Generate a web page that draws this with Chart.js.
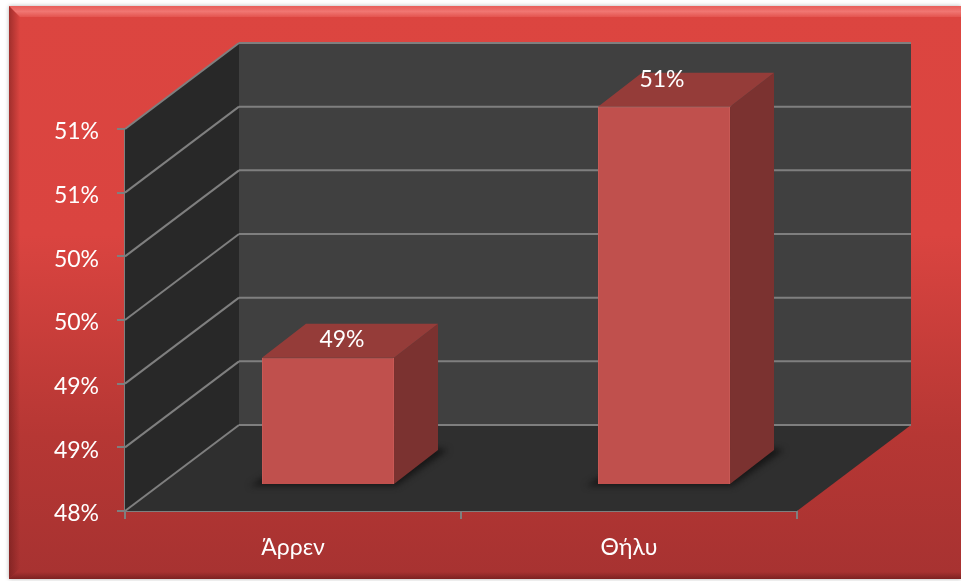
<!DOCTYPE html>
<html>
<head>
<meta charset="utf-8">
<style>
    html, body { margin: 0; padding: 0; background: #fff; }
    canvas { display: block; }
</style>
<script src="https://cdn.jsdelivr.net/npm/chart.js@4"></script>
</head>
<body>
<canvas id="barChart" width="961" height="581"></canvas>
<script>
const categories = ['Άρρεν', 'Θήλυ'];
const percentValues = [49.0, 50.97];
const valueLabels = ['49%', '51%'];
const yTickValues = [48, 48.5, 49, 49.5, 50, 50.5, 51];
const yTickLabels = ['48%', '49%', '49%', '50%', '50%', '51%', '51%'];

const fontName = 'Lato, "Open Sans", sans-serif';
const fontSize = 23;

// how far the walls and the bars are pushed back from the front plane
const wallShift = { x: 114, y: -86 };
const barShift = { x: 35, y: -26 };
const barDepth = { x: 44, y: -34 };
const labelShift = [{ x: 14, y: -18 }, { x: -2, y: -27 }];

function poly(ctx, points, fill) {
    ctx.beginPath();
    points.forEach((p, i) => {
        if (i == 0) ctx.moveTo(p[0], p[1]);
        else ctx.lineTo(p[0], p[1]);
    });
    ctx.closePath();
    ctx.fillStyle = fill;
    ctx.fill();
}

function line(ctx, x1, y1, x2, y2) {
    ctx.beginPath();
    ctx.moveTo(x1, y1);
    ctx.lineTo(x2, y2);
    ctx.stroke();
}

const panelPlugin = {
    id: 'panel',
    beforeDraw(chart) {
        const ctx = chart.ctx;
        const x = 9, y = 6, w = 952, h = 573, bevel = 11;
        ctx.save();
        ctx.shadowColor = 'rgba(0,0,0,0.3)';
        ctx.shadowBlur = 4;
        ctx.fillStyle = '#b03432';
        ctx.fillRect(x, y, w, h);
        ctx.restore();

        const grad = ctx.createLinearGradient(0, y, 0, y + h);
        grad.addColorStop(0, '#dc4540');
        grad.addColorStop(0.4, '#da4440');
        grad.addColorStop(0.75, '#b63734');
        grad.addColorStop(1, '#a73231');
        ctx.fillStyle = grad;
        ctx.fillRect(x, y, w, h);

        // bevel edges
        const topGrad = ctx.createLinearGradient(0, y, 0, y + bevel);
        topGrad.addColorStop(0, '#e85e5a');
        topGrad.addColorStop(0.5, '#f07672');
        topGrad.addColorStop(1, '#e4544f');
        poly(ctx, [[x, y], [x + w, y], [x + w, y + bevel], [x + bevel, y + bevel]], topGrad);
        const leftGrad = ctx.createLinearGradient(x, 0, x + bevel, 0);
        leftGrad.addColorStop(0, 'rgba(90,20,20,0.45)');
        leftGrad.addColorStop(1, 'rgba(90,20,20,0)');
        poly(ctx, [[x, y], [x + bevel, y + bevel], [x + bevel, y + h - bevel], [x, y + h]], leftGrad);
        const botGrad = ctx.createLinearGradient(0, y + h - 7, 0, y + h);
        botGrad.addColorStop(0, 'rgba(90,20,20,0)');
        botGrad.addColorStop(1, 'rgba(90,20,20,0.55)');
        poly(ctx, [[x, y + h], [x + 7, y + h - 7], [x + w, y + h - 7], [x + w, y + h]], botGrad);

        // the tick labels sit a little lower than the ticks
        chart.scales.y.getLabelItems().forEach(item => {
            item.options.translation[1] += 3;
        });
    },
    beforeDatasetsDraw(chart) {
        const ctx = chart.ctx;
        const a = chart.chartArea;
        const sx = wallShift.x, sy = wallShift.y;
        const yScale = chart.scales.y;

        poly(ctx, [[a.left + sx, a.top + sy], [a.right + sx, a.top + sy], [a.right + sx, a.bottom + sy], [a.left + sx, a.bottom + sy]], '#404040');
        poly(ctx, [[a.left, a.top], [a.left + sx, a.top + sy], [a.left + sx, a.bottom + sy], [a.left, a.bottom]], '#282828');
        poly(ctx, [[a.left, a.bottom], [a.left + sx, a.bottom + sy], [a.right + sx, a.bottom + sy], [a.right, a.bottom]], '#2f2f2f');

        ctx.save();
        ctx.strokeStyle = '#7f7f7f';
        ctx.lineWidth = 2;
        yTickValues.forEach(v => {
            const py = yScale.getPixelForValue(v);
            line(ctx, a.left, py, a.left + sx, py + sy);
            line(ctx, a.left + sx, py + sy, a.right + sx, py + sy);
        });
        ctx.restore();
    },
    beforeDatasetDraw(chart) {
        const ctx = chart.ctx;
        const bars = chart.getDatasetMeta(0).data;
        const dx = barDepth.x, dy = barDepth.y;

        ctx.save();
        ctx.translate(barShift.x, barShift.y);
        bars.forEach(bar => {
            const l = bar.x - bar.width / 2;
            const r = bar.x + bar.width / 2;
            const t = bar.y;
            const b = bar.base;

            // soft shadow on the floor, reaches past the base on both sides
            ctx.save();
            ctx.filter = 'blur(3px)';
            poly(ctx, [[l - 12, b + 2], [r + 2, b + 2], [r + dx + 10, b + dy], [r + dx, b + dy - 2], [l + dx, b + dy]], 'rgba(20,20,20,0.9)');
            ctx.restore();

            poly(ctx, [[r, t], [r + dx, t + dy], [r + dx, b + dy], [r, b]], '#7b3230');
            poly(ctx, [[l, t], [l + dx, t + dy], [r + dx, t + dy], [r, t]], '#953c39');
        });
    },
    afterDatasetDraw(chart) {
        const ctx = chart.ctx;
        const bars = chart.getDatasetMeta(0).data;
        ctx.restore();

        ctx.save();
        ctx.fillStyle = '#ffffff';
        ctx.font = fontSize + 'px ' + fontName;
        ctx.textAlign = 'center';
        ctx.textBaseline = 'middle';
        bars.forEach((bar, i) => {
            ctx.fillText(valueLabels[i],
                bar.x + barShift.x + labelShift[i].x,
                bar.y + barShift.y + labelShift[i].y);
        });
        ctx.restore();
    }
};

const barChart = new Chart(document.getElementById('barChart').getContext('2d'), {
    type: 'bar',
    data: {
        labels: categories,
        datasets: [{
            data: percentValues,
            base: 48,
            backgroundColor: '#c0504d',
            borderColor: '#c85a56',
            borderWidth: 1,
            barPercentage: 0.393,
            categoryPercentage: 1,
            clip: false
        }]
    },
    options: {
        responsive: false,
        animation: false,
        layout: { padding: { top: 129, right: 164, left: 0, bottom: 0 } },
        plugins: {
            legend: { display: false },
            title: { display: false },
            tooltip: { enabled: false }
        },
        scales: {
            x: {
                afterFit(scale) { scale.height = 70; },
                grid: {
                    drawOnChartArea: false,
                    color: '#7f7f7f',
                    lineWidth: 2,
                    tickLength: 8
                },
                border: { color: '#7f7f7f', width: 2 },
                ticks: {
                    color: '#ffffff',
                    padding: 15,
                    maxRotation: 0,
                    font: { family: fontName, size: fontSize }
                }
            },
            y: {
                min: 48,
                max: 51,
                afterFit(scale) { scale.width = 125; },
                afterBuildTicks(scale) {
                    scale.ticks = yTickValues.map(v => ({ value: v }));
                },
                grid: {
                    drawOnChartArea: false,
                    color: '#7f7f7f',
                    lineWidth: 2,
                    tickLength: 8
                },
                border: { color: '#7f7f7f', width: 2 },
                ticks: {
                    color: '#ffffff',
                    padding: 18,
                    callback: (value, index) => yTickLabels[index],
                    font: { family: fontName, size: fontSize }
                }
            }
        }
    },
    plugins: [panelPlugin]
});
</script>
</body>
</html>
